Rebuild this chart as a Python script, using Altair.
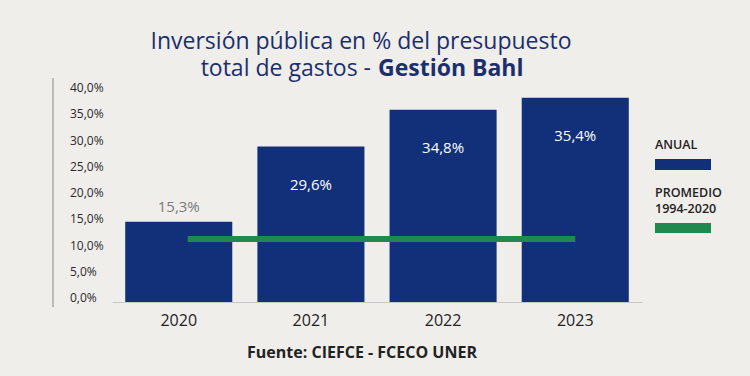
import altair as alt
import pandas as pd

years = ["2020", "2021", "2022", "2023"]
bar_values = [15.3, 29.6, 36.6, 38.9]
bar_labels = ["15,3%", "29,6%", "34,8%", "35,4%"]
label_inside = [False, True, True, True]
avg_value = 12.0
avg_from, avg_to = "2020", "2023"
y_ticks = [0, 5, 10, 15, 20, 25, 30, 35, 40]

title_line1 = "Inversión pública en % del presupuesto"
title_line2a = "total de gastos -"
title_line2b = "Gestión Bahl"
legend_items = ["ANUAL", "PROMEDIO", "1994-2020"]
source_text = "Fuente: CIEFCE - FCECO UNER"

NAVY = "#12307a"
GREEN = "#1f8a50"
TITLE_C = "#1b2f6e"
BG = "#f0eeeb"
FONT = "Open Sans"

df = pd.DataFrame({"year": years, "value": bar_values, "label": bar_labels, "inside": label_inside})
avg_df = pd.DataFrame({"a": [avg_from], "b": [avg_to], "v": [avg_value]})
tick_df = pd.DataFrame({"value": y_ticks})

W, H = 530, 210

x = alt.X("year:N", title=None, sort=years,
          scale=alt.Scale(paddingInner=0.19, paddingOuter=0.1),
          axis=alt.Axis(labelAngle=0, ticks=False, domainColor="#c8c8c8", domainWidth=1,
                        labelFontSize=16, labelColor="#222222", labelFont=FONT, labelPadding=10))
y = alt.Y("value:Q", title=None, scale=alt.Scale(domain=[0, 40], nice=False),
          axis=alt.Axis(grid=False, ticks=False, domain=False, labels=False))

base = alt.Chart(df)
bars = base.mark_bar(color=NAVY).encode(x=x, y=y)
lab_out = base.transform_filter("!datum.inside").mark_text(
    dy=-15, fontSize=15, color="#7a7a7a", font=FONT, baseline="middle"
).encode(x=alt.X("year:N", sort=years), y="value:Q", text="label:N")
lab_in = base.transform_filter("datum.inside").mark_text(
    dy=38, fontSize=15, color="white", font=FONT, baseline="middle"
).encode(x=alt.X("year:N", sort=years), y="value:Q", text="label:N")

avg = alt.Chart(avg_df).mark_rule(color=GREEN, strokeWidth=6, xOffset=9).encode(
    x=alt.X("a:N", sort=years), x2="b:N", y="v:Q")

ytick_labels = alt.Chart(tick_df).transform_calculate(
    lbl="replace(format(datum.value, '.1f'), '.', ',') + '%'"
).mark_text(align="left", baseline="middle", dy=-4, fontSize=12, fontWeight=500,
            color="#2a2a2a", font=FONT).encode(
    x=alt.value(-42), y="value:Q", text="lbl:N")

axis_line = alt.Chart(pd.DataFrame({"k": [0]})).mark_rule(color="#8a8a8a", strokeWidth=1).encode(
    x=alt.value(-59), y=alt.value(-14), y2=alt.value(215))

def txt(s, xv, yv, size, weight="normal", color="#222222", align="left"):
    return alt.Chart(pd.DataFrame({"t": [s]})).mark_text(
        fontSize=size, fontWeight=weight, color=color, font=FONT, align=align, baseline="middle"
    ).encode(x=alt.value(xv), y=alt.value(yv), text="t:N")

t1 = txt(title_line1, 249, -50, 23, 500, TITLE_C, "center")
t2a = txt(title_line2a, 259, -23, 23, 500, TITLE_C, "right")
t2b = txt(title_line2b, 266, -23, 23, "bold", TITLE_C, "left")
src = txt(source_text, 250, 261, 16, "bold", "#222222", "center")
lg1 = txt(legend_items[0], 543, 53, 12.5, 600)
lg2 = txt(legend_items[1], 543, 101, 12.5, 600)
lg3 = txt(legend_items[2], 543, 117, 12.5, 600)
r1 = alt.Chart(pd.DataFrame({"k": [0]})).mark_rect(color=NAVY).encode(
    x=alt.value(543), x2=alt.value(599), y=alt.value(67), y2=alt.value(78))
r2 = alt.Chart(pd.DataFrame({"k": [0]})).mark_rect(color=GREEN).encode(
    x=alt.value(543), x2=alt.value(599), y=alt.value(131), y2=alt.value(141))

chart = alt.layer(bars, avg, lab_out, lab_in, ytick_labels, axis_line, t1, t2a, t2b, src,
                  lg1, lg2, lg3, r1, r2).properties(
    width=W, height=H, background=BG,
    autosize=alt.AutoSizeParams(type="none"),
    padding={"left": 112, "top": 92, "right": 108, "bottom": 74},
).configure_view(stroke=None)

chart.save("out.html", embed_options={"renderer": "svg", "actions": False})
